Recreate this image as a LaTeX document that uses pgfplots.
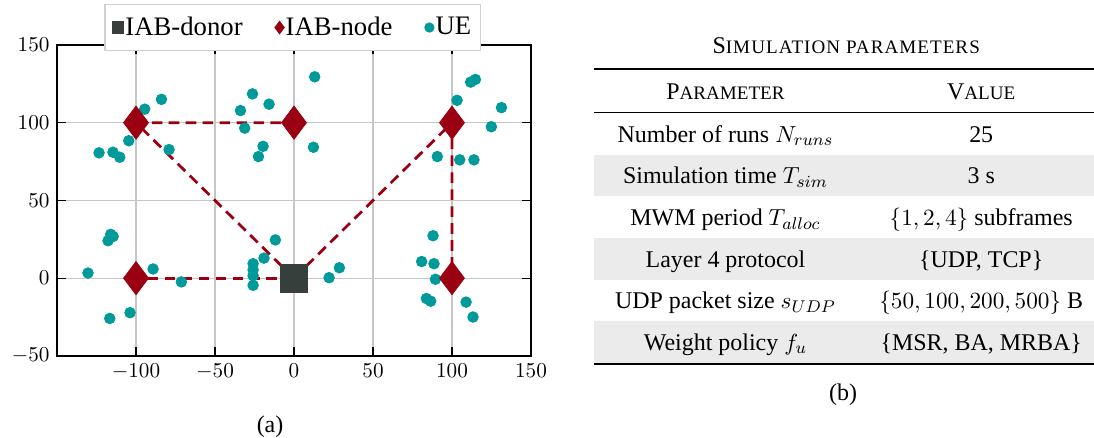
\documentclass[border=0pt]{standalone}
\usepackage{fontspec}
\setmainfont{Liberation Serif}
\usepackage{pgfplots}
\pgfplotsset{compat=1.18}
\usepackage{array}
\usepackage{booktabs}
\usepackage{colortbl}
\definecolor{ue}{HTML}{009A9A}
\definecolor{nodec}{HTML}{9A0012}
\definecolor{donor}{HTML}{363F3C}
\definecolor{rowgray}{HTML}{EBEBEB}
\pgfplotstableread{
x y
-83.9 115.0
-94.5 108.7
-104.6 88.4
-123.4 80.6
-114.6 81.0
-110.3 77.8
-79.1 82.7
-26.3 118.5
-33.9 107.8
-15.8 111.9
-31.2 96.5
-19.6 84.8
-22.5 78.2
13.1 129.5
12.3 84.2
103.2 114.4
111.8 126.1
114.8 127.8
131.3 109.7
124.9 97.4
90.7 78.2
104.9 76.1
113.9 76.1
-116.0 28.2
-114.5 26.8
-117.7 24.1
-130.4 3.3
-89.2 5.9
-71.3 -2.4
-116.6 -25.9
-103.8 -22.2
-25.9 9.3
-25.9 5.4
-25.9 1.6
-25.9 -4.6
-19.0 12.9
-11.8 24.6
28.7 6.7
22.2 0.3
88.0 27.3
80.8 10.7
88.6 9.3
89.5 -0.7
83.8 -13.1
86.5 -14.8
108.9 -15.4
113.3 -25.0
}\uedata
\begin{document}
\begin{tikzpicture}
\useasboundingbox (-26.9pt,-38.7pt) rectangle (489.2pt,167.9pt);
\begin{axis}[
  at={(0pt,0pt)}, anchor=south west,
  scale only axis, width=223.6pt, height=146.7pt,
  xmin=-150, xmax=150, ymin=-50, ymax=150,
  xtick={-100,-50,0,50,100,150}, ytick={-50,0,50,100,150},
  grid=major, major grid style={color=gray!45, line width=0.5pt},
  tick align=inside, tick style={black, line width=0.6pt},
  axis line style={black, line width=0.8pt},
  ticklabel style={font=\fontsize{10}{12}\selectfont},
  legend columns=3,
  legend image code/.code={\draw[#1] plot coordinates {(0pt,0pt)};},
  legend style={at={(0.497,1.056)}, anchor=center, draw=gray!35, line width=0.6pt,
    font=\fontsize{12.6}{15}\selectfont, inner xsep=3.5pt, inner ysep=5pt,
    nodes={inner sep=0.8pt},
    /tikz/every even column/.append style={column sep=14.5pt}},
  legend cell align=left,
  clip=false,
]
\addlegendimage{only marks, mark=square*, mark size=2.7pt, color=donor}
\addlegendentry{IAB-donor}
\addlegendimage{only marks, mark=diamond*, mark size=2.8pt, color=nodec}
\addlegendentry{IAB-node}
\addlegendimage{only marks, mark=*, mark size=2.1pt, color=ue}
\addlegendentry{UE}
% backhaul links
\addplot[forget plot, nodec, line width=1.3pt, dash pattern=on 5pt off 3pt] coordinates {(0,0) (-100,100) (0,100)};
\addplot[forget plot, nodec, line width=1.3pt, dash pattern=on 5pt off 3pt] coordinates {(0,0) (-100,0)};
\addplot[forget plot, nodec, line width=1.3pt, dash pattern=on 5pt off 3pt] coordinates {(0,0) (100,100) (100,0)};
% UEs
\addplot[forget plot, only marks, mark=*, mark size=2.5pt, color=ue] table {\uedata};
% IAB nodes
\addplot[forget plot, only marks, mark=diamond*, mark size=7.8pt, color=nodec] coordinates {(-100,100) (0,100) (100,100) (-100,0) (100,0)};
% donor
\addplot[forget plot, only marks, mark=square*, mark size=6.5pt, color=donor] coordinates {(0,0)};
\end{axis}
\node[font=\fontsize{11.3}{13.6}\selectfont] at (100.5pt,-33.5pt) {(a)};
\node[font=\fontsize{11.3}{13.6}\selectfont] at (370.8pt,-18.4pt) {(b)};
\node[font=\fontsize{11.3}{13.6}\selectfont] at (372.3pt,146.2pt) {S{\fontsize{9}{10}\selectfont\addfontfeature{LetterSpace=5.5}IMULATION PARAMETERS}};
\node[anchor=north, inner sep=0pt] at (371.7pt,135.8pt) {%
\fontsize{11.3}{13.6}\selectfont
\setlength{\aboverulesep}{0pt}\setlength{\belowrulesep}{0pt}%
\setlength{\tabcolsep}{0pt}%
\renewcommand{\arraystretch}{1.445}%
\begin{tabular}{>{\centering\arraybackslash}p{123.6pt}>{\centering\arraybackslash\hspace*{5pt}}p{112.7pt}}
\toprule
P{\fontsize{9}{10}\selectfont ARAMETER} & V{\fontsize{9}{10}\selectfont ALUE}\\
\midrule
Number of runs $N_{runs}$ & 25\\
\rowcolor{rowgray} Simulation time $T_{sim}$ & 3 s\\
MWM period $T_{alloc}$ & $\{1,2,4\}$ subframes\\
\rowcolor{rowgray} Layer 4 protocol & \{UDP, TCP\}\\
UDP packet size $s_{UDP}$ & $\{50,100,200,500\}$ B\\
\rowcolor{rowgray} Weight policy $f_u$ & \{MSR, BA, MRBA\}\\
\bottomrule
\end{tabular}};
\end{tikzpicture}
\end{document}
